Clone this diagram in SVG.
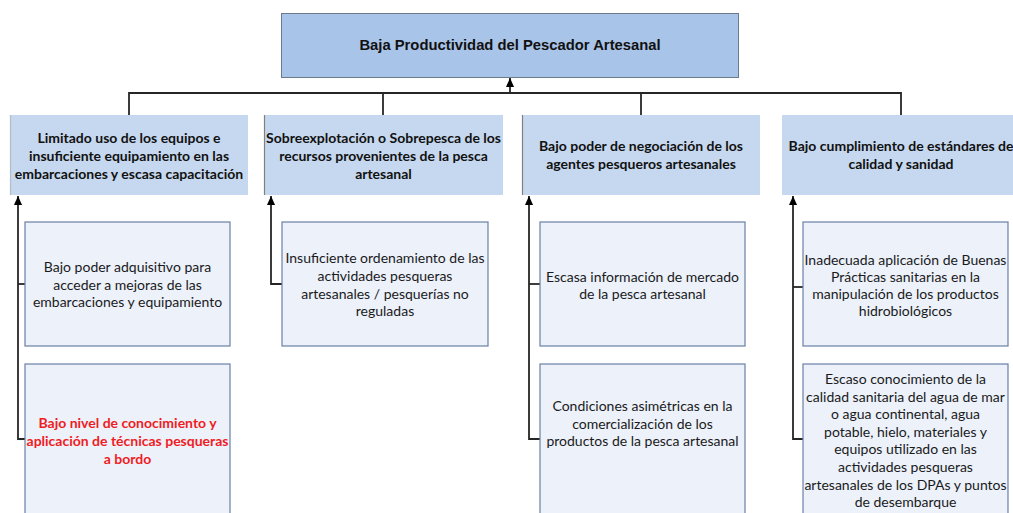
<svg xmlns="http://www.w3.org/2000/svg" width="1013" height="513" viewBox="0 0 1013 513">
<style>
.top{fill:#a9c4e9;stroke:#6d7a8c;stroke-width:1}
.l2{fill:#c6d8ef}
.l2e{stroke:#808080;stroke-width:1.2}
.l3{fill:#ecf1fa;stroke:#6a80a6;stroke-width:1.2}
.t1{font-family:"Liberation Sans",Arial,sans-serif;font-weight:bold;font-size:14.8px;fill:#111;text-anchor:middle}
.t2{font-family:Lato,"Liberation Sans",sans-serif;font-weight:bold;font-size:14px;fill:#111;text-anchor:middle}
.t3{font-family:Lato,"Liberation Sans",sans-serif;font-size:14px;fill:#1a1a1a;text-anchor:middle}
.red{fill:#f01c24;font-weight:bold}
.c{fill:none;stroke:#262626;stroke-width:1.8}
</style>
<defs>
<marker id="ah2" viewBox="0 0 10 10" refX="10" refY="5" markerWidth="9" markerHeight="9" orient="auto" markerUnits="userSpaceOnUse">
<path d="M0,0.5 L10,5 L0,9.5 z" fill="#000"/>
</marker>
</defs>

<g id="connectors">
<path class="c" d="M129,115 V93 H901 V115"/>
<path class="c" d="M383,93 V115"/>
<path class="c" d="M641,93 V115"/>
<path class="c" d="M510,93 V78" marker-end="url(#ah2)"/>
<path class="c" d="M25,439 H18 V196" marker-end="url(#ah2)"/>
<path class="c" d="M18,284 H25"/>
<path class="c" d="M282,284 H271 V196" marker-end="url(#ah2)"/>
<path class="c" d="M540,439 H529 V196" marker-end="url(#ah2)"/>
<path class="c" d="M529,284 H540"/>
<path class="c" d="M803,439 H793 V196" marker-end="url(#ah2)"/>
<path class="c" d="M793,287 H803"/>
</g>

<g id="root">
<rect class="top" x="281.5" y="13.5" width="457" height="64"/>
<text class="t1" x="510" y="50">Baja Productividad del Pescador Artesanal</text>
</g>

<g id="c1">
<rect class="l2" x="10" y="115" width="238" height="80"/>
<line class="l2e" x1="10.5" y1="115" x2="10.5" y2="195" style="stroke:#b5bcc6"/>
<text class="t2" x="129" y="143">Limitado uso de los equipos e</text>
<text class="t2" x="129" y="161">insuficiente equipamiento en las</text>
<text class="t2" x="129" y="179">embarcaciones y escasa capacitación</text>
</g>
<g id="c2">
<rect class="l2" x="264" y="115" width="239" height="80"/>
<line class="l2e" x1="264.5" y1="115" x2="264.5" y2="195"/>
<text class="t2" x="383.5" y="143">Sobreexplotación o Sobrepesca de los</text>
<text class="t2" x="383.5" y="161">recursos provenientes de la pesca</text>
<text class="t2" x="383.5" y="179">artesanal</text>
</g>
<g id="c3">
<rect class="l2" x="522" y="115" width="238" height="80"/>
<line class="l2e" x1="522.5" y1="115" x2="522.5" y2="195"/>
<text class="t2" x="641" y="151">Bajo poder de negociación de los</text>
<text class="t2" x="641" y="169">agentes pesqueros artesanales</text>
</g>
<g id="c4">
<rect class="l2" x="782" y="115" width="238" height="80"/>
<text class="t2" x="901" y="151">Bajo cumplimiento de estándares de</text>
<text class="t2" x="901" y="169">calidad y sanidad</text>
</g>

<g id="c1a">
<rect class="l3" x="25" y="222" width="205" height="124"/>
<text class="t3" x="127.5" y="272">Bajo poder adquisitivo para</text>
<text class="t3" x="127.5" y="289.5">acceder a mejoras de las</text>
<text class="t3" x="127.5" y="307">embarcaciones y equipamiento</text>
</g>
<g id="c1b">
<rect class="l3" x="25" y="364" width="205" height="160"/>
<text class="t3 red" x="127.5" y="428">Bajo nivel de conocimiento y</text>
<text class="t3 red" x="127.5" y="446">aplicación de técnicas pesqueras</text>
<text class="t3 red" x="127.5" y="463.5">a bordo</text>
</g>
<g id="c2a">
<rect class="l3" x="282" y="222" width="206" height="124"/>
<text class="t3" x="385" y="263">Insuficiente ordenamiento de las</text>
<text class="t3" x="385" y="281">actividades pesqueras</text>
<text class="t3" x="385" y="298.5">artesanales / pesquerías no</text>
<text class="t3" x="385" y="316">reguladas</text>
</g>
<g id="c3a">
<rect class="l3" x="540" y="222" width="205" height="124"/>
<text class="t3" x="642.5" y="282">Escasa información de mercado</text>
<text class="t3" x="642.5" y="299">de la pesca artesanal</text>
</g>
<g id="c3b">
<rect class="l3" x="540" y="364" width="205" height="160"/>
<text class="t3" x="642.5" y="411">Condiciones asimétricas en la</text>
<text class="t3" x="642.5" y="428.5">comercialización de los</text>
<text class="t3" x="642.5" y="446">productos de la pesca artesanal</text>
</g>
<g id="c4a">
<rect class="l3" x="803" y="222" width="205" height="124"/>
<text class="t3" x="905.5" y="265">Inadecuada aplicación de Buenas</text>
<text class="t3" x="905.5" y="282">Prácticas sanitarias en la</text>
<text class="t3" x="905.5" y="299">manipulación de los productos</text>
<text class="t3" x="905.5" y="316">hidrobiológicos</text>
</g>
<g id="c4b">
<rect class="l3" x="803" y="364" width="205" height="160"/>
<text class="t3" x="905.5" y="384">Escaso conocimiento de la</text>
<text class="t3" x="905.5" y="401.6">calidad sanitaria del agua de mar</text>
<text class="t3" x="905.5" y="419.2">o agua continental, agua</text>
<text class="t3" x="905.5" y="436.8">potable, hielo, materiales y</text>
<text class="t3" x="905.5" y="454.4">equipos utilizado en las</text>
<text class="t3" x="905.5" y="472">actividades pesqueras</text>
<text class="t3" x="905.5" y="489.6">artesanales de los DPAs y puntos</text>
<text class="t3" x="905.5" y="507.2">de desembarque</text>
</g>
</svg>
